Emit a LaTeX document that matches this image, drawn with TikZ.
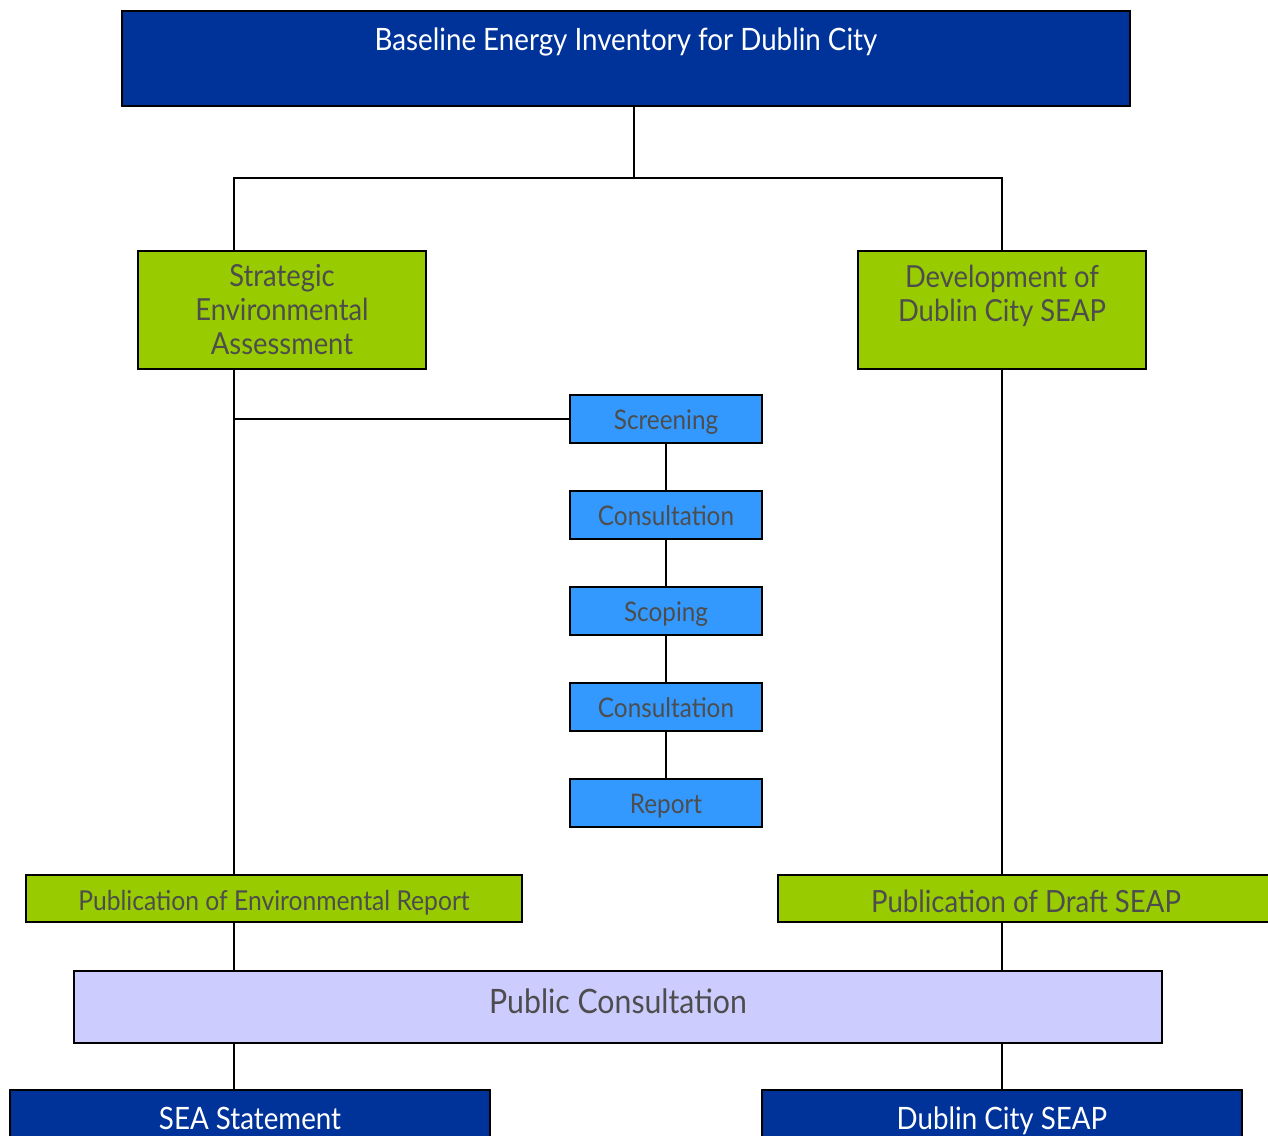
\documentclass[tikz,border=0pt]{standalone}
\usepackage{fontspec}
\setmainfont[FakeStretch=0.9]{Lato}

\definecolor{navy}{RGB}{0,51,153}
\definecolor{leaf}{RGB}{153,204,0}
\definecolor{sky}{RGB}{51,153,255}
\definecolor{lavender}{RGB}{204,204,255}
\definecolor{txtgray}{RGB}{77,77,77}

\newcommand{\titlefont}{\fontsize{15.4}{17}\selectfont}
\newcommand{\boxfont}{\fontsize{15.2}{17}\selectfont}
\newcommand{\stepfont}{\fontsize{13.5}{15}\selectfont}
\newcommand{\pubfont}{\fontsize{13.7}{15}\selectfont}
\newcommand{\draftfont}{\fontsize{15.3}{17}\selectfont}
\newcommand{\consfont}{\fontsize{16.8}{19}\selectfont}

\begin{document}
\begin{tikzpicture}
  [x=0.5pt, y=-0.5pt,
box/.style={draw=black, line width=1pt, inner sep=0pt, align=center, text=txtgray},
navybox/.style={box, fill=navy, text=white, font=\titlefont, minimum width=240pt,
  text height=19.5pt, text depth=28pt},
greenbox/.style={box, fill=leaf, font=\boxfont, minimum width=144pt, minimum height=59pt},
pubbox/.style={box, fill=leaf, font=\pubfont, minimum width=248pt,
  text height=17.5pt, text depth=6pt},
stepbox/.style={box, fill=sky, font=\stepfont, minimum width=96pt,
  text height=17pt, text depth=7pt},
link/.style={line width=0.8pt}]

\clip (0,0) rectangle (1268,1135);

\begin{scope}
  \coordinate (split) at (634,178);
  \coordinate (lcol) at (234,178);
  \coordinate (rcol) at (1002,178);

  \node [navybox, minimum width=504pt] (base) at (626,58.5) {Baseline Energy Inventory for Dublin City};

  \node [greenbox] (sea) at (282,310) {Strategic\\Environmental\\Assessment};
  \node [greenbox] (dev) at (1002,310) {Development of\\Dublin City SEAP\\~};
\end{scope}

% SEA steps
\begin{scope}
  \node [stepbox] (screen) at (666,419) {Screening};
  \node [stepbox] (consA) at (666,515) {Consultation};
  \node [stepbox] (scope) at (666,611) {Scoping};
  \node [stepbox] (consB) at (666,707) {Consultation};
  \node [stepbox] (report) at (666,803) {Report};
\end{scope}

\begin{scope}
  \node [pubbox] (pubenv) at (274,898.5) {Publication of Environmental Report};
  \node [pubbox, font=\draftfont, text height=18.5pt, text depth=5pt]
    (pubdraft) at (1026,898.5) {Publication of Draft SEAP};

  \node [box, fill=lavender, font=\consfont, minimum width=544pt,
    text height=21pt, text depth=15pt] (pubcons) at (618,1007) {Public Consultation};

  \node [navybox] (seastmt) at (250,1137.5) {SEA Statement};
  \node [navybox] (dcseap) at (1002,1137.5) {Dublin City SEAP};
\end{scope}

\draw [link] (split |- base.south) -- (split);
\draw [link] (lcol |- sea.north) -- (lcol) -- (rcol) -- (dev.north);

\draw [link] (lcol |- sea.south) -- (lcol |- pubenv.north);
\draw [link] (lcol |- screen.west) -- (screen.west);
\draw [link] (screen) -- (consA) -- (scope) -- (consB) -- (report);
\draw [link] (dev.south) -- (rcol |- pubdraft.north);

\draw [link] (lcol |- pubenv.south) -- (lcol |- pubcons.north);
\draw [link] (rcol |- pubdraft.south) -- (rcol |- pubcons.north);
\draw [link] (lcol |- pubcons.south) -- (lcol |- seastmt.north);
\draw [link] (rcol |- pubcons.south) -- (dcseap.north);

\end{tikzpicture}
\end{document}
